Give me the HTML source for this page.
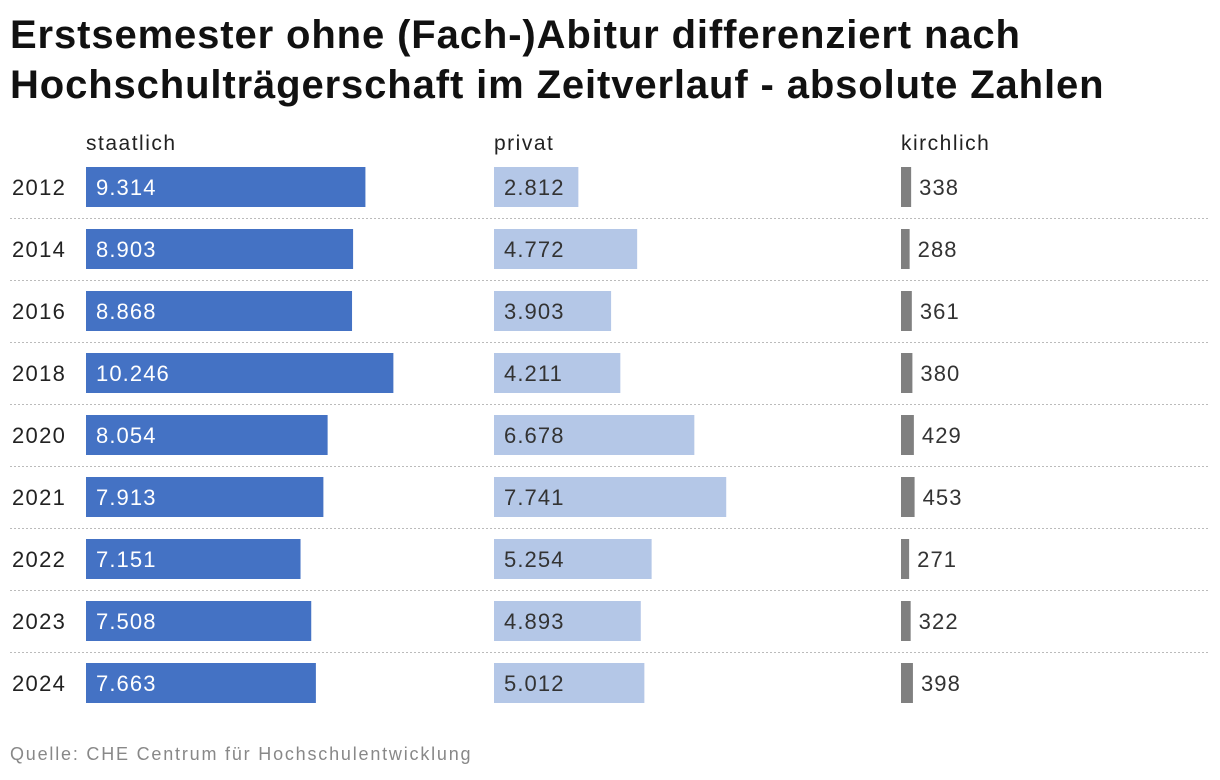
<!DOCTYPE html>
<html><head><meta charset="utf-8"><style>
body{margin:0;background:#fff;font-family:"Liberation Sans",sans-serif;}
#wrap{position:relative;width:1220px;height:780px;overflow:hidden;}
h1{position:absolute;left:10px;top:10px;margin:0;font-size:40px;line-height:50px;font-weight:bold;color:#111;letter-spacing:0.88px;}
.hdr{position:absolute;top:132px;font-size:21px;color:#222;letter-spacing:1.5px;}
.foot{position:absolute;left:10px;top:744px;font-size:18px;color:#888;letter-spacing:1.8px;}
</style></head><body>
<div id="wrap">
<h1>Erstsemester ohne (Fach-)Abitur differenziert nach<br>Hochschulträgerschaft im Zeitverlauf - absolute Zahlen</h1>
<div class="hdr" style="left:86px">staatlich</div>
<div class="hdr" style="left:494px">privat</div>
<div class="hdr" style="left:901px">kirchlich</div>
<svg id="svg" width="1220" height="780" style="position:absolute;left:0;top:0"></svg>
<div class="foot">Quelle: CHE Centrum für Hochschulentwicklung</div>
</div>
<script>
const years=["2012","2014","2016","2018","2020","2021","2022","2023","2024"];
const staatlich=[9314,8903,8868,10246,8054,7913,7151,7508,7663];
const privat=[2812,4772,3903,4211,6678,7741,5254,4893,5012];
const kirchlich=[338,288,361,380,429,453,271,322,398];
const svg=document.getElementById('svg');
const NS='http://www.w3.org/2000/svg';
const scale=v=>v*0.03;
const rowY=i=>167+i*62;
const fmt=v=>v.toLocaleString('de-DE');
function mk(tag,attrs){const e=document.createElementNS(NS,tag);for(const k in attrs)e.setAttribute(k,attrs[k]);svg.appendChild(e);return e;}
const cols=[{d:staatlich,x:86,c:"#4472c4",tc:"#fff",inside:true,n:"staatlich"},
{d:privat,x:494,c:"#b4c7e7",tc:"#333",inside:true,n:"privat"},
{d:kirchlich,x:901,c:"#808080",tc:"#333",inside:false,n:"kirchlich"}];
years.forEach((y,i)=>{
 const t=mk('text',{x:12,y:rowY(i)+28,'font-size':22,fill:'#222','letter-spacing':1.3});t.textContent=y;
 
 
 cols.forEach(c=>{
  const w=Math.max(scale(c.d[i]),1);
  const r=mk('rect',{x:c.x,y:rowY(i),width:w,height:40,fill:c.c});
  
  
  const lx=c.inside?c.x+10:c.x+w+8;
  const l=mk('text',{x:lx,y:rowY(i)+28,'font-size':22,fill:c.tc,'letter-spacing':1.1});l.textContent=fmt(c.d[i]);
  
  
 });
 if(i<years.length-1){
  const s=mk('line',{x1:10,x2:1208,y1:rowY(i)+51.5,y2:rowY(i)+51.5,stroke:'#bbb','stroke-width':1,'stroke-dasharray':'2,2'});
  
  
 }
});
</script>
</body></html>
